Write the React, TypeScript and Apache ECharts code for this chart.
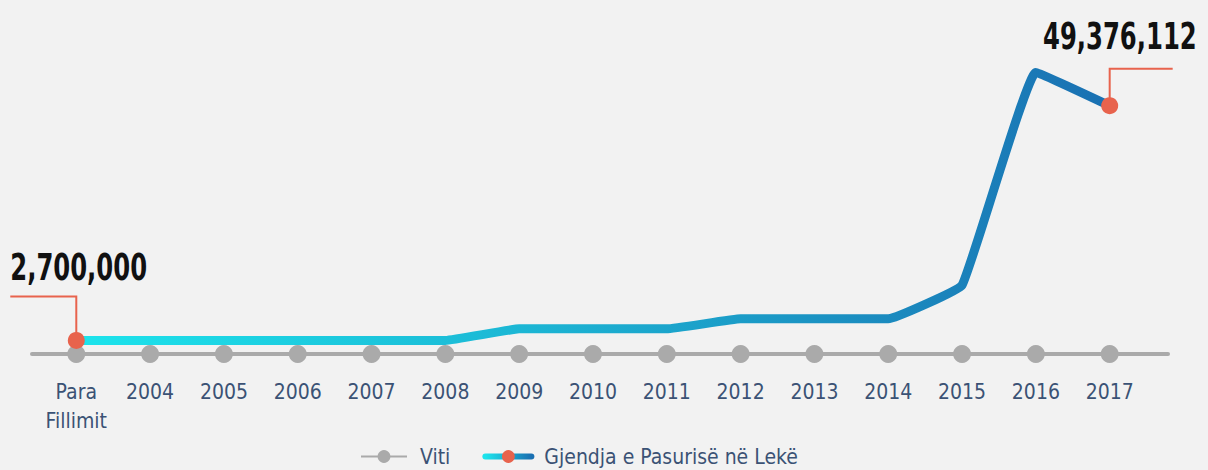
import React, { useEffect, useRef } from "react";
import * as echarts from "echarts";

const categories = ["Para\nFillimit", "2004", "2005", "2006", "2007", "2008", "2009", "2010", "2011", "2012", "2013", "2014", "2015", "2016", "2017"];
const wealthValues = [2700000, 2700000, 2700000, 2700000, 2700000, 2700000, 5000000, 5000000, 5000000, 7000000, 7000000, 7000000, 13700000, 56000000, 49376112];
const yearBaseline = [0, 0, 0, 0, 0, 0, 0, 0, 0, 0, 0, 0, 0, 0, 0];
const startLabel = "2,700,000";
const endLabel = "49,376,112";

const FONT = "'DejaVu Sans Condensed', 'Liberation Sans Narrow', sans-serif";
const TEXT_COLOR = "#3b5275";
const RED = "#e8634d";
const gradStops = [
  { offset: 0, color: "#1de4ec" },
  { offset: 0.4, color: "#1cbad6" },
  { offset: 1, color: "#1a70b2" },
];

export default function App() {
  const ref = useRef<HTMLDivElement>(null);
  useEffect(() => {
    if (!ref.current) return;
    const chart = echarts.init(ref.current, undefined, { renderer: "svg" });
    const lastIdx = wealthValues.length - 1;
    chart.setOption({
      animation: false,
      backgroundColor: "#f2f2f2",
      grid: { left: 32, right: 40, top: 2, bottom: 116, containLabel: false },
      xAxis: {
        type: "value",
        min: -0.6,
        max: 14.79,
        splitLine: { show: false },
        axisTick: { show: false },
        axisLine: { show: true, onZero: true, lineStyle: { color: "#aaaaaa", width: 4 } },
        axisLabel: {
          customValues: categories.map((_, i) => i),
          formatter: (v: number) => categories[Math.round(v)] ?? "",
          color: TEXT_COLOR,
          fontFamily: FONT,
          fontSize: 21,
          lineHeight: 29,
          margin: 23,
        },
      },
      yAxis: { type: "value", min: 0, max: 70000000, show: false },
      legend: {
        bottom: -2,
        left: 355,
        itemWidth: 46,
        itemHeight: 16,
        itemGap: 32,
        textStyle: { color: TEXT_COLOR, fontFamily: FONT, fontSize: 21, padding: [0, 0, 0, 8] },
        data: [
          { name: "Viti" },
          {
            name: "Gjendja e Pasurisë në Lekë",
            lineStyle: {
              width: 6,
              color: new echarts.graphic.LinearGradient(0, 0, 46, 0, [
                { offset: 0, color: "#1de4ec" },
                { offset: 1, color: "#1a70b2" },
              ], true),
            },
          },
        ],
      },
      series: [
        {
          name: "Viti",
          type: "line",
          data: yearBaseline.map((v, i) => [i, v]),
          symbol: "circle",
          symbolSize: 18,
          itemStyle: { color: "#aaaaaa" },
          lineStyle: { color: "#aaaaaa", width: 4 },
          z: 2,
        },
        {
          name: "Gjendja e Pasurisë në Lekë",
          type: "line",
          smooth: 0.08,
          data: wealthValues.map((v, i) => ({
            value: [i, v],
            symbol: i === 0 || i === lastIdx ? "circle" : "none",
          })),
          symbol: "circle",
          symbolSize: 17,
          showAllSymbol: true,
          itemStyle: { color: RED },
          lineStyle: {
            width: 9,
            join: "round",
            cap: "round",
            color: new echarts.graphic.LinearGradient(0, 0, 1, 0, gradStops),
          },
          z: 5,
        },
      ],
    });

    const p0 = chart.convertToPixel({ gridIndex: 0 }, [0, wealthValues[0]]) as number[];
    const p1 = chart.convertToPixel({ gridIndex: 0 }, [lastIdx, wealthValues[lastIdx]]) as number[];
    chart.setOption({
      graphic: [
        {
          type: "polyline",
          z: 1,
          shape: { points: [[p0[0], p0[1]], [p0[0], p0[1] - 44], [p0[0] - 66, p0[1] - 44]] },
          style: { stroke: RED, lineWidth: 2, fill: "none" },
        },
        {
          type: "polyline",
          z: 1,
          shape: { points: [[p1[0], p1[1]], [p1[0], p1[1] - 37], [p1[0] + 63, p1[1] - 37]] },
          style: { stroke: RED, lineWidth: 2, fill: "none" },
        },
        {
          type: "text",
          x: p0[0] - 66,
          y: p0[1] - 73,
          scaleX: 0.73,
          style: {
            text: startLabel,
            fill: "#111111",
            font: `bold 37px ${FONT}`,
            textAlign: "left",
            textVerticalAlign: "middle",
          },
        },
        {
          type: "text",
          x: p1[0] + 87,
          y: p1[1] - 69,
          scaleX: 0.73,
          style: {
            text: endLabel,
            fill: "#111111",
            font: `bold 37px ${FONT}`,
            textAlign: "right",
            textVerticalAlign: "middle",
          },
        },
      ],
    });
    return () => chart.dispose();
  }, []);
  return <div ref={ref} style={{ width: 1208, height: 470, position: "absolute", left: 0, top: 0 }} />;
}
